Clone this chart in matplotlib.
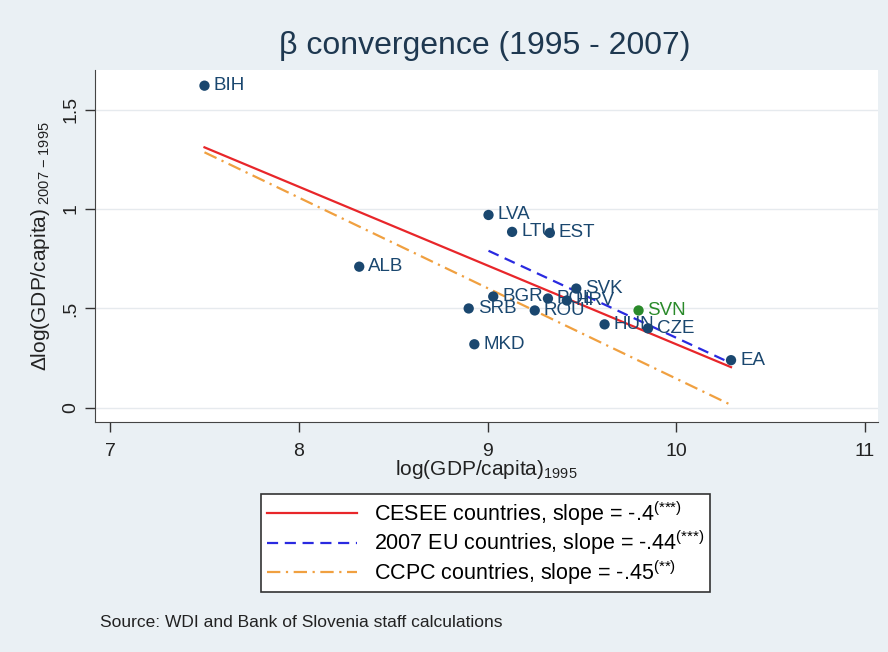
import matplotlib
matplotlib.use("Agg")
import matplotlib.pyplot as plt

plt.rcParams["font.family"] = ["Liberation Sans", "DejaVu Sans"]
plt.rcParams["mathtext.fontset"] = "custom"
plt.rcParams["mathtext.rm"] = "Liberation Sans"
plt.rcParams["mathtext.it"] = "Liberation Sans"

# country points: log GDP per capita 1995 vs growth 1995-2007
countries = ["BIH", "ALB", "LVA", "LTU", "EST", "SVK", "BGR", "POL", "HRV",
             "SRB", "ROU", "MKD", "HUN", "SVN", "CZE", "EA"]
log_gdp_1995 = [7.50, 8.32, 9.005, 9.13, 9.33, 9.47, 9.03, 9.32, 9.42,
                8.90, 9.25, 8.93, 9.62, 9.80, 9.85, 10.29]
dlog_gdp = [1.62, 0.71, 0.97, 0.885, 0.88, 0.60, 0.56, 0.55, 0.54,
            0.50, 0.49, 0.32, 0.42, 0.49, 0.40, 0.24]
highlight = "SVN"

# fitted lines (endpoints)
cesee_x = [7.50, 10.29]
cesee_y = [1.31, 0.205]
eu_x = [9.005, 10.29]
eu_y = [0.79, 0.225]
ccpc_x = [7.50, 10.29]
ccpc_y = [1.285, 0.015]

labels = [
    r"CESEE countries, slope = -.4$^{\mathrm{(}{*}{*}{*}\mathrm{)}}$",
    r"2007 EU countries, slope = -.44$^{\mathrm{(}{*}{*}{*}\mathrm{)}}$",
    r"CCPC countries, slope = -.45$^{\mathrm{(}{*}{*}\mathrm{)}}$",
]

navy = "#1a476f"
green = "#2a8a2a"
bg = "#eaf0f4"

fig = plt.figure(figsize=(8.88, 6.52), dpi=100, facecolor=bg)
ax = fig.add_axes([0.107, 0.353, 0.882, 0.540])
ax.set_facecolor("white")

ax.set_xlim(6.92, 11.07)
ax.set_ylim(-0.07, 1.70)

for yv in [0, 0.5, 1, 1.5]:
    ax.axhline(yv, color="#e6eaee", lw=1.0, zorder=0)

l1, = ax.plot(cesee_x, cesee_y, color="#e8262a", lw=1.6, zorder=2)
l2, = ax.plot(eu_x, eu_y, color="#2a2ae0", lw=1.6, ls=(0, (5, 3)), zorder=2)
l3, = ax.plot(ccpc_x, ccpc_y, color="#f0a040", lw=1.6,
              ls=(0, (6, 2.5, 1, 2.5)), zorder=2)

for name, x, y in zip(countries, log_gdp_1995, dlog_gdp):
    c = green if name == highlight else navy
    ax.scatter([x], [y], s=55, color=c, zorder=3, edgecolors="none")
    ax.annotate(name, (x, y), xytext=(6.5, 0), textcoords="offset points",
                va="center", ha="left", fontsize=13.5, color=c, zorder=4)

ax.set_xticks([7, 8, 9, 10, 11])
ax.set_xticklabels(["7", "8", "9", "10", "11"])
ax.set_yticks([0, 0.5, 1, 1.5])
ax.set_yticklabels(["0", ".5", "1", "1.5"], rotation=90, va="center")
ax.tick_params(axis="both", labelsize=14, length=7, width=1, color="#333333",
               labelcolor="#222222", direction="out")
ax.tick_params(axis="x", pad=8)
ax.tick_params(axis="y", pad=4)
for s in ["top", "right"]:
    ax.spines[s].set_visible(False)
for s in ["left", "bottom"]:
    ax.spines[s].set_color("#444444")

ax.set_xlabel(r"log(GDP/capita)$_{\mathrm{1995}}$", fontsize=15, color="#222222",
              labelpad=-1)
ax.set_ylabel(r"Δlog(GDP/capita)$_{\mathrm{\ 2007\ {-}\ 1995}}$", fontsize=15,
              color="#222222", labelpad=8)

fig.text(0.546, 0.930, "β convergence (1995 - 2007)", ha="center", va="center",
         fontsize=23, color="#1e3850")

leg = fig.legend([l1, l2, l3], labels, loc="upper center",
                 bbox_to_anchor=(0.547, 0.243), fontsize=15.5, frameon=True,
                 fancybox=False, edgecolor="#333333", facecolor="white",
                 handlelength=4.2, borderpad=0.25, labelspacing=0.05,
                 handletextpad=0.8, borderaxespad=0)
leg.get_frame().set_linewidth(1.2)
leg.get_frame().set_alpha(1)

fig.text(0.113, 0.046, "Source: WDI and Bank of Slovenia staff calculations",
         fontsize=12.5, color="#222222", ha="left", va="center")

fig.savefig("out.png", dpi=100, facecolor=bg)
